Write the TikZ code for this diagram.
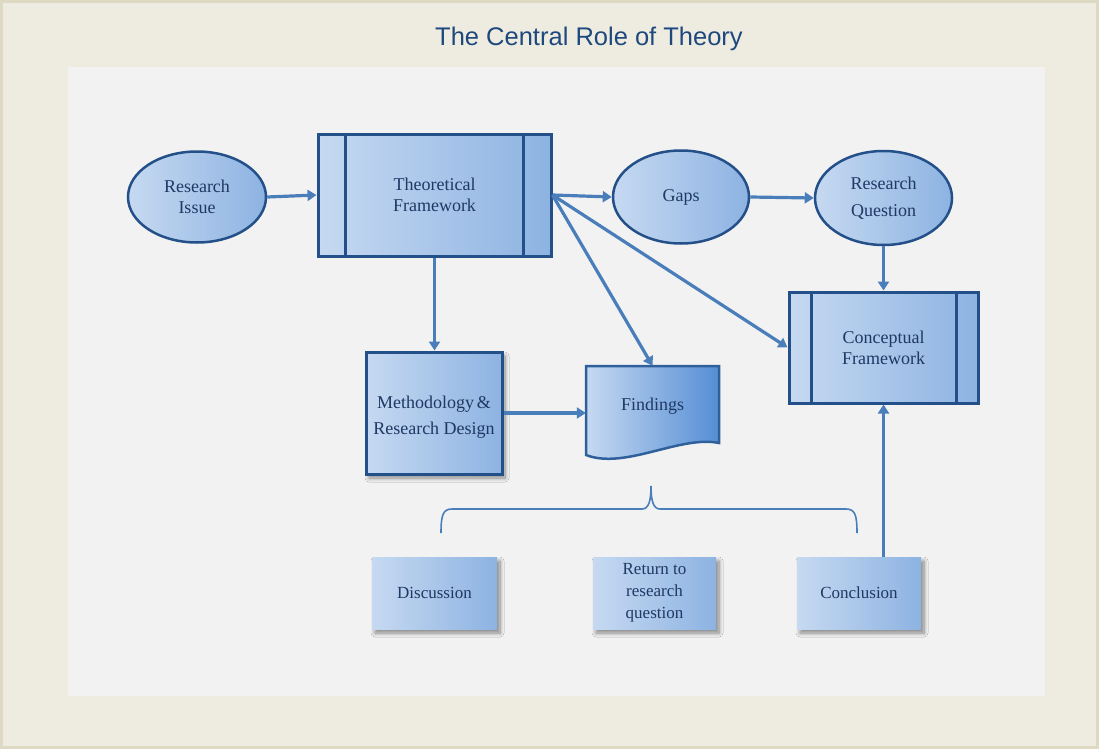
\documentclass[tikz,border=0pt]{standalone}
\usepackage{fontspec}
\setmainfont{Liberation Serif}
\newfontfamily\titlefont{Liberation Sans}
\usetikzlibrary{shapes.geometric,arrows.meta,shadows.blur,calc}

\definecolor{frameBg}{HTML}{EEECE1}
\definecolor{frameLine}{HTML}{DDD9C3}
\definecolor{panel}{HTML}{F2F2F2}
\definecolor{fillL}{HTML}{C6D9F1}
\definecolor{fillR}{HTML}{8DB3E2}
\definecolor{fillDeep}{HTML}{558ED5}
\definecolor{edge}{HTML}{24508A}
\definecolor{docedge}{HTML}{2F609C}
\definecolor{linkblue}{HTML}{4A7EBB}
\definecolor{ink}{HTML}{1F3864}
\definecolor{titleink}{HTML}{1F497D}

\tikzset{
  base/.style={inner sep=0pt, align=center, text=ink,
    font=\fontsize{18}{21}\selectfont, left color=fillL, right color=fillR},
  oval/.style={base, ellipse, draw=edge, line width=2.5pt},
  barbox/.style={base, rectangle, draw=edge, line width=3pt},
  softshadow/.style={blur shadow={shadow xshift=3pt, shadow yshift=-4pt,
    shadow blur steps=8, shadow blur radius=4pt, shadow opacity=45}},
  plainbox/.style={base, rectangle, draw=edge, line width=3pt, softshadow},
  result/.style={base, rectangle, minimum width=125pt, minimum height=72pt,
    font=\fontsize{17}{22}\selectfont, softshadow},
  bar/.style={draw=edge, line width=3pt},
  link/.style={draw=linkblue, line width=3.2pt, -{Triangle[length=9pt,width=11pt]}},
}

\begin{document}
\begin{tikzpicture}[x=1pt,y=-1pt]
  % page and panel
  \useasboundingbox (0,0) rectangle (1099,749);
  \fill[frameBg] (0,0) rectangle (1099,749);
  \draw[frameLine, line width=3pt] (1.5,1.5) rectangle (1097.5,747.5);
  \fill[panel] (68,67) rectangle (1045,696);

  \node[text=titleink, font=\titlefont\fontsize{25.5}{30}\selectfont] (title) at (589,39)
    {The Central Role of Theory};

  % top row
  \node[oval, minimum width=138pt, minimum height=91pt] (ri) at (197,197)
    {Research\\Issue};
  \node[barbox, minimum width=233pt, minimum height=122pt] (tf) at (434.5,195)
    {Theoretical\\Framework};
  \draw[bar] ($(tf.north west)+(29,0)$) -- ($(tf.south west)+(29,0)$);
  \draw[bar] ($(tf.north east)+(-29,0)$) -- ($(tf.south east)+(-29,0)$);

  \node[oval, minimum width=136pt, minimum height=93pt] (gaps) at (681,197) {Gaps};
  \node[oval, minimum width=137pt, minimum height=94pt,
        font=\fontsize{18}{27}\selectfont] (rq) at (883.5,198)
    {Research\\Question};

  % conceptual framework
  \node[barbox, minimum width=189pt, minimum height=111pt] (cf) at (883.5,347.5)
    {Conceptual\\Framework};
  \draw[bar] ($(cf.north west)+(24,0)$) -- ($(cf.south west)+(24,0)$);
  \draw[bar] ($(cf.north east)+(-23,0)$) -- ($(cf.south east)+(-23,0)$);

  % methodology
  \node[plainbox, minimum width=136pt, minimum height=122pt,
        font=\fontsize{18}{26}\selectfont] (me) at (434,413)
    {\\[-6pt]Methodology\,\&\\Research Design};

  % findings document
  \draw[docedge, line width=2.5pt, left color=fillL, right color=fillDeep]
    (586,366) -- (719,366) -- (719,443)
    .. controls (680,435) and (625,470) .. (586,455) -- cycle;
  \node[inner sep=0pt, minimum width=133pt, minimum height=80pt, text=ink,
        font=\fontsize{18}{21}\selectfont] (fi) at (652.5,406)
    {\raisebox{2pt}{Findings}};

  % outcome boxes
  \node[result] (disc) at (434.5,593) {Discussion};
  \node[result, minimum width=123pt] (ret) at (654.5,593)
    {Return to\\research\\question};
  \node[result, minimum width=124pt] (conc) at (859,593) {Conclusion};

  % brace over the outcomes
  \draw[linkblue, line width=1.6pt]
    (441,533) .. controls (441,515) and (443,509) .. (452,509)
    -- (642,509) .. controls (649,509) and (651,500) .. (651,486)
    .. controls (651,500) and (653,509) .. (660,509)
    -- (846,509) .. controls (855,509) and (857,515) .. (857,533);

  % connectors
  \draw[link] (ri.east) -- (tf.west);
  \draw[link] (tf.east) -- (gaps.west);
  \draw[link] (gaps.east) -- (rq.west);
  \draw[link] (rq.south) -- (cf.north);
  \draw[link] (tf.south) -- (tf.south |- me.north);
  \draw[link] (me.east) -- (me.east -| fi.west);
  \draw[link] (tf.east) -- (fi.north);
  \draw[link] (tf.east) -- (cf.west);
  \draw[link] (conc.north -| cf.south) -- (cf.south);
\end{tikzpicture}
\end{document}
